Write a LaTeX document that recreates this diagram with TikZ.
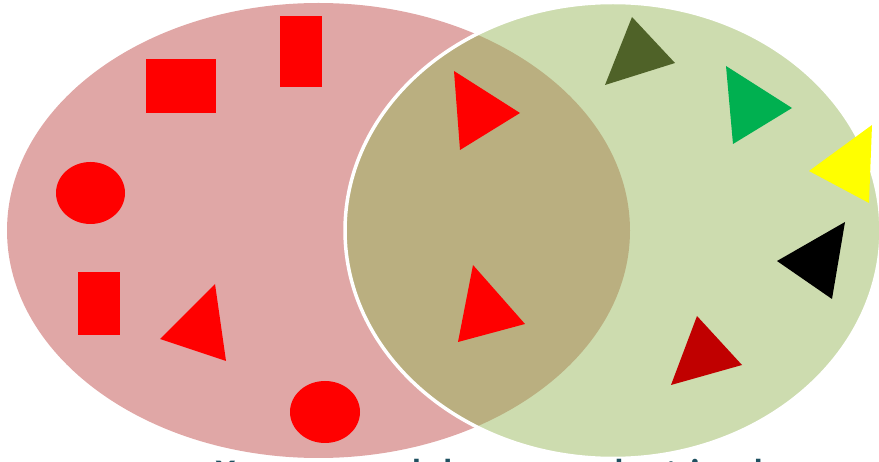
\documentclass[tikz,border=0pt]{standalone}
\usepackage{fontspec}
\setmainfont{Carlito}
\definecolor{redset}{RGB}{224,167,166}
\definecolor{triset}{RGB}{205,220,175}
\definecolor{bothsets}{RGB}{186,175,128}
\definecolor{redpiece}{RGB}{255,0,0}
\definecolor{olivepiece}{RGB}{79,98,40}
\definecolor{leafpiece}{RGB}{0,176,80}
\definecolor{maroonpiece}{RGB}{192,0,0}
\definecolor{yellowpiece}{RGB}{255,255,0}
\definecolor{captionink}{RGB}{31,80,96}
\tikzset{
  setfill/.style={draw=none},
  rim/.style={draw=white, line width=3.5pt},
  piece/.style={fill=redpiece, draw=none},
  caption/.style={text=captionink, inner sep=0pt, font=\fontsize{36}{42}\selectfont\bfseries},
}

\begin{document}
\begin{tikzpicture}[x=1pt, y=-1pt]
  % red things on the left, triangles on the right; the overlap holds the red triangles
  \clip (0,0) rectangle (879,462);
  \fill[setfill, redset] (318.5,230.5) ellipse [x radius=311.5, y radius=227.5];
  \fill[setfill, triset] (613,230.5) ellipse [x radius=268, y radius=228];
  \begin{scope}
    \clip (318.5,230.5) ellipse [x radius=311.5, y radius=227.5];
    \fill[setfill, bothsets] (613,230.5) ellipse [x radius=268, y radius=228];
  \end{scope}
  \draw[rim] (613,230.5) ellipse [x radius=268, y radius=228];
  % red, not triangles
  \fill[piece] (146,59) rectangle (216,113);
  \fill[piece] (280,16) rectangle (322,87);
  \fill[piece] (90.5,193) ellipse [x radius=34.5, y radius=31];
  \fill[piece] (78,272) rectangle (120,335);
  \fill[piece] (160,339) -- (215,284) -- (226,361) -- cycle;
  \fill[piece] (325,412) ellipse [x radius=35, y radius=31];
  % red triangles
  \fill[piece] (454,71) -- (520,113) -- (460,150) -- cycle;
  \fill[piece] (473,265) -- (525,324) -- (458,342) -- cycle;
  % triangles, not red
  \fill[olivepiece] (632,17) -- (675,63) -- (605,85) -- cycle;
  \fill[leafpiece] (726,66) -- (792,108) -- (733,144) -- cycle;
  \fill[yellowpiece] (872,125) -- (809,171) -- (869,203) -- cycle;
  \fill[black] (845,222) -- (777,261) -- (832,299) -- cycle;
  \fill[maroonpiece] (697,316) -- (742,365) -- (671,385) -- cycle;
  \node[caption, anchor=base west] (note) at (216,485) {Yes, some red shapes are also triangles};
\end{tikzpicture}
\end{document}
